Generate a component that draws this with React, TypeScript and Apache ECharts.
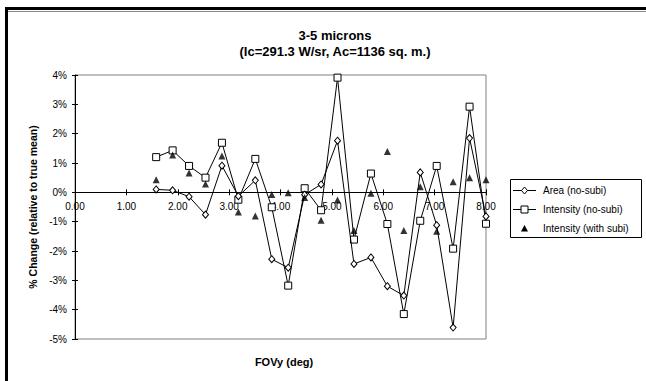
import React, { useEffect, useRef } from "react";
import * as echarts from "echarts";

const fovy = [1.58, 1.9, 2.22, 2.54, 2.86, 3.18, 3.51, 3.83, 4.15, 4.47, 4.79, 5.11, 5.43, 5.76, 6.08, 6.4, 6.72, 7.04, 7.36, 7.68, 8.0];
const areaNoSubi = [0.1, 0.07, -0.15, -0.76, 0.91, -0.13, 0.41, -2.28, -2.57, -0.08, 0.27, 1.76, -2.44, -2.22, -3.2, -3.52, 0.68, -1.12, -4.61, 1.85, -0.82];
const intensityNoSubi = [1.2, 1.43, 0.9, 0.5, 1.69, -0.25, 1.14, -0.51, -3.18, 0.14, -0.61, 3.91, -1.61, 0.64, -1.08, -4.15, -0.97, 0.9, -1.92, 2.92, -1.07];
const intensityWithSubi = [0.43, 1.27, 0.66, 0.28, 1.24, -0.67, -0.81, -0.07, -0.01, -0.18, -0.95, -0.26, -1.3, -0.03, 1.39, -1.3, 0.19, -1.33, 0.36, 0.5, 0.43];
const seriesNames = ["Area (no-subi)", "Intensity (no-subi)", "Intensity (with subi)"];
const titleLines = ["3-5 microns", "(Ic=291.3 W/sr, Ac=1136 sq. m.)"];
const xTitle = "FOVy (deg)";
const yTitle = "% Change (relative to true mean)";
const yMin = -5;
const yMax = 4;

const FONT = "'Liberation Sans', Arial, sans-serif";

export default function App() {
  const ref = useRef<HTMLDivElement>(null);
  useEffect(() => {
    if (!ref.current) return;
    const chart = echarts.init(ref.current, null, { renderer: "svg" });
    const pair = (ys: number[]) => fovy.map((x, i) => [x, ys[i]]);
    const lineStyle = { color: "#000", width: 1 };
    const gridTop = 75;
    const gridHeight = 264;
    // distance of the zero line above the grid bottom
    const zeroOffset = -(gridHeight * (0 - yMin)) / (yMax - yMin);

    // legend drawn as graphics
    const lgX = 510;
    const lgY = 179;
    const rowY = [190, 209, 228];
    const legendEls: any[] = [
      {
        type: "rect",
        shape: { x: lgX + 0.5, y: lgY + 0.5, width: 131, height: 58 },
        style: { fill: "#fff", stroke: "#000", lineWidth: 1 },
      },
    ];
    const mx = 524.5;
    seriesNames.forEach((name, i) => {
      const cy = rowY[i] + 0.5;
      if (i < 2) {
        legendEls.push({
          type: "line",
          shape: { x1: 513, y1: cy, x2: 536, y2: cy },
          style: { stroke: "#000", lineWidth: 1 },
        });
      }
      if (i === 0) {
        legendEls.push({
          type: "polygon",
          shape: { points: [[mx, cy - 3.5], [mx + 3, cy], [mx, cy + 3.5], [mx - 3, cy]] },
          style: { fill: "#fff", stroke: "#000", lineWidth: 1 },
        });
      } else if (i === 1) {
        legendEls.push({
          type: "rect",
          shape: { x: mx - 3.5, y: cy - 3.5, width: 7, height: 7 },
          style: { fill: "#fff", stroke: "#000", lineWidth: 1 },
        });
      } else {
        legendEls.push({
          type: "polygon",
          shape: { points: [[mx, cy - 3.5], [mx + 3.5, cy + 3], [mx - 3.5, cy + 3]] },
          style: { fill: "#000", stroke: "none" },
        });
      }
      legendEls.push({
        type: "text",
        x: 543,
        y: cy,
        style: {
          text: name,
          fill: "#000",
          font: `10px ${FONT}`,
          verticalAlign: "middle",
          align: "left",
        },
      });
    });

    chart.setOption({
      animation: false,
      backgroundColor: "#fff",
      textStyle: { fontFamily: FONT },
      title: [
        {
          text: titleLines.join("\n"),
          left: 330,
          top: 22,
          textAlign: "center",
          textStyle: { fontFamily: FONT, fontSize: 13, fontWeight: "bold", color: "#000", lineHeight: 16 },
        },
        {
          text: xTitle,
          left: 279,
          top: 351,
          textAlign: "center",
          textStyle: { fontFamily: FONT, fontSize: 11, fontWeight: "bold", color: "#000" },
        },
      ],
      grid: {
        left: 75,
        top: gridTop,
        width: 411,
        height: gridHeight,
        show: true,
        borderColor: "#808080",
        borderWidth: 1,
        backgroundColor: "transparent",
      },
      xAxis: [
        {
          type: "value",
          position: "bottom",
          offset: zeroOffset,
          min: 0,
          max: 8,
          interval: 1,
          axisLine: { show: true, onZero: false, lineStyle: { color: "#000", width: 1 } },
          axisTick: { show: true, length: 3, lineStyle: { color: "#000" } },
          axisLabel: {
            formatter: (v: number) => v.toFixed(2),
            fontFamily: FONT,
            fontSize: 10,
            color: "#000",
            margin: 9,
          },
          splitLine: { show: false },
        },
        {
          type: "value",
          position: "bottom",
          offset: zeroOffset,
          min: 0,
          max: 8,
          interval: 1,
          axisLine: { show: false, onZero: false },
          axisTick: { show: true, inside: true, length: 3, lineStyle: { color: "#000" } },
          axisLabel: { show: false },
          splitLine: { show: false },
        },
      ],
      yAxis: [
        {
          type: "value",
          min: yMin,
          max: yMax,
          interval: 1,
          axisLine: { show: true, onZero: false, lineStyle: { color: "#000", width: 1 } },
          axisTick: { show: true, length: 3, lineStyle: { color: "#000" } },
          axisLabel: { formatter: "{value}%", fontFamily: FONT, fontSize: 10, color: "#000", margin: 8 },
          splitLine: { show: false },
          name: yTitle,
          nameLocation: "middle",
          nameGap: 33,
          nameTextStyle: { fontFamily: FONT, fontSize: 10.5, fontWeight: "bold", color: "#000" },
        },
        {
          type: "value",
          position: "left",
          min: yMin,
          max: yMax,
          interval: 1,
          axisLine: { show: false, onZero: false },
          axisTick: { show: true, inside: true, length: 3, lineStyle: { color: "#000" } },
          axisLabel: { show: false },
          splitLine: { show: false },
        },
      ],
      series: [
        {
          name: seriesNames[0],
          type: "line",
          data: pair(areaNoSubi),
          symbol: "diamond",
          symbolSize: [6, 7],
          showAllSymbol: true,
          lineStyle,
          itemStyle: { color: "#fff", borderColor: "#000", borderWidth: 1 },
          z: 3,
        },
        {
          name: seriesNames[1],
          type: "line",
          data: pair(intensityNoSubi),
          symbol: "rect",
          symbolSize: 7,
          showAllSymbol: true,
          lineStyle,
          itemStyle: { color: "#fff", borderColor: "#000", borderWidth: 1 },
          z: 2,
        },
        {
          name: seriesNames[2],
          type: "scatter",
          data: pair(intensityWithSubi),
          symbol: "triangle",
          symbolSize: 7,
          itemStyle: { color: "#000" },
          z: 4,
        },
      ],
      graphic: [
        {
          type: "rect",
          shape: { x: 6.5, y: 8.5, width: 700, height: 500 },
          style: { fill: "none", stroke: "#000", lineWidth: 3 },
          silent: true,
        },
        {
          type: "line",
          shape: { x1: 8, y1: 11.5, x2: 646, y2: 11.5 },
          style: { stroke: "#888", lineWidth: 1 },
          silent: true,
        },
        { type: "group", silent: true, children: legendEls },
      ],
    });
    return () => chart.dispose();
  }, []);
  return (
    <div
      ref={ref}
      style={{ position: "fixed", left: 0, top: 0, width: 646, height: 381, background: "#fff" }}
    />
  );
}
